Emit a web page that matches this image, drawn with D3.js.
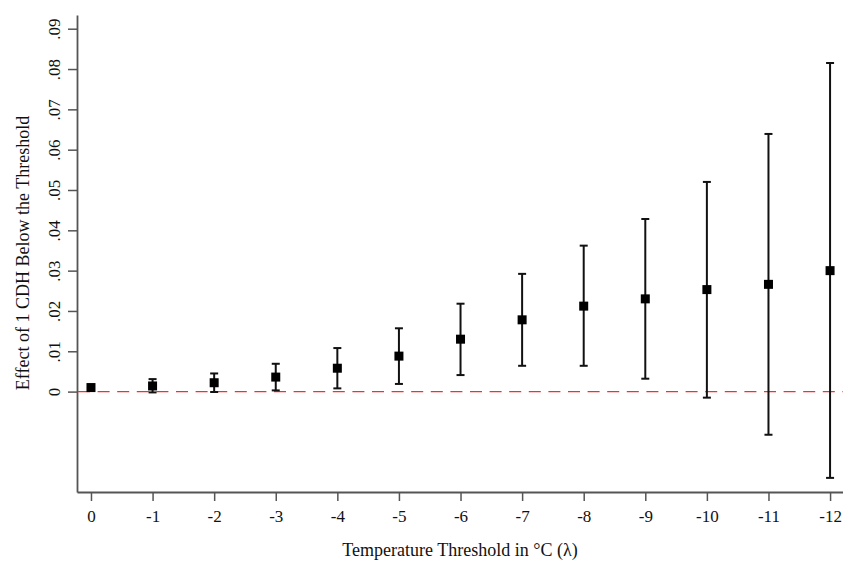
<!DOCTYPE html>
<html>
<head>
<meta charset="utf-8">
<script src="https://cdn.jsdelivr.net/npm/d3@7"></script>
<style>
  html, body { margin: 0; padding: 0; background: #fff; }
  svg { display: block; }
  text { font-family: "Liberation Serif", "Times New Roman", serif; fill: #111; }
</style>
</head>
<body>
<div id="chart"></div>
<script>
// Data
const thresholds = [0, -1, -2, -3, -4, -5, -6, -7, -8, -9, -10, -11, -12];
const estimates  = [0.0010, 0.0014, 0.0022, 0.0036, 0.0058, 0.0088, 0.0130, 0.0178, 0.0212, 0.0230, 0.0253, 0.0266, 0.0300];
const ciLower    = [0.0003, -0.0002, -0.0001, 0.0003, 0.0008, 0.0019, 0.0041, 0.0064, 0.0064, 0.0032, -0.0015, -0.0107, -0.0214];
const ciUpper    = [0.0017, 0.0031, 0.0045, 0.0069, 0.0108, 0.0157, 0.0218, 0.0292, 0.0362, 0.0428, 0.0520, 0.0639, 0.0815];
const yTicks     = [0, 0.01, 0.02, 0.03, 0.04, 0.05, 0.06, 0.07, 0.08, 0.09];
const yTickLabels = ["0", ".01", ".02", ".03", ".04", ".05", ".06", ".07", ".08", ".09"];
const xTickLabels = ["0", "-1", "-2", "-3", "-4", "-5", "-6", "-7", "-8", "-9", "-10", "-11", "-12"];
const xTitle = "Temperature Threshold in °C (λ)";
const yTitle = "Effect of 1 CDH Below the Threshold";

const W = 843, H = 561;
const svg = d3.select("#chart").append("svg").attr("width", W).attr("height", H);

const x = d3.scaleLinear().domain([0.227, -12.21]).range([77, 843]);
const y = d3.scaleLinear().domain([-0.0249, 0.0934]).range([492, 15]);

const axisColor = "#555";

// Y axis
const yAxis = svg.append("g").attr("transform", "translate(77,0)")
  .call(d3.axisLeft(y).tickValues(yTicks).tickSize(9).tickSizeOuter(0)
        .tickFormat((d, i) => yTickLabels[i]));
yAxis.select(".domain").attr("stroke", axisColor).attr("stroke-width", 1.8);
yAxis.selectAll(".tick line").attr("stroke", axisColor).attr("stroke-width", 1.5);
yAxis.selectAll(".tick text")
  .attr("font-size", 17)
  .attr("font-family", "Liberation Serif, serif")
  .attr("fill", "#111")
  .attr("text-anchor", "middle")
  .attr("x", 0).attr("dy", 0)
  .attr("transform", "translate(-17,0) rotate(-90)")
  .attr("y", 0)
  .attr("dominant-baseline", "auto");

// X axis
const xAxis = svg.append("g").attr("transform", "translate(0,492)")
  .call(d3.axisBottom(x).tickValues(thresholds).tickSize(9).tickSizeOuter(0)
        .tickFormat((d, i) => xTickLabels[i]));
xAxis.select(".domain").attr("stroke", axisColor).attr("stroke-width", 1.8);
xAxis.selectAll(".tick line").attr("stroke", axisColor).attr("stroke-width", 1.5);
xAxis.selectAll(".tick text")
  .attr("font-size", 17)
  .attr("font-family", "Liberation Serif, serif")
  .attr("fill", "#111")
  .attr("y", 18).attr("dy", "0.71em");

// Reference line at zero
svg.append("line")
  .attr("x1", 78).attr("x2", 843)
  .attr("y1", y(0)).attr("y2", y(0))
  .attr("stroke", "#ff2a2a").attr("stroke-width", 1.4)
  .attr("stroke-dasharray", "12,7.6");

// Error bars
const capW = 4;
const g = svg.append("g");
thresholds.forEach((t, i) => {
  const cx = x(t);
  g.append("line").attr("x1", cx).attr("x2", cx)
    .attr("y1", y(ciLower[i])).attr("y2", y(ciUpper[i]))
    .attr("stroke", "#111").attr("stroke-width", 2);
  [ciLower[i], ciUpper[i]].forEach(v => {
    g.append("line").attr("x1", cx - capW).attr("x2", cx + capW)
      .attr("y1", y(v)).attr("y2", y(v))
      .attr("stroke", "#111").attr("stroke-width", 2);
  });
});

// Points
const sq = 9;
g.selectAll("rect.pt").data(thresholds).enter().append("rect")
  .attr("class", "pt")
  .attr("x", d => x(d) - sq / 2)
  .attr("y", (d, i) => y(estimates[i]) - sq / 2)
  .attr("width", sq).attr("height", sq)
  .attr("fill", "#000");

// Titles
svg.append("text")
  .attr("x", 460).attr("y", 556)
  .attr("text-anchor", "middle")
  .attr("font-size", 18)
  .text(xTitle);

svg.append("text")
  .attr("transform", "translate(29,253) rotate(-90)")
  .attr("text-anchor", "middle")
  .attr("font-size", 18)
  .text(yTitle);
</script>
</body>
</html>
